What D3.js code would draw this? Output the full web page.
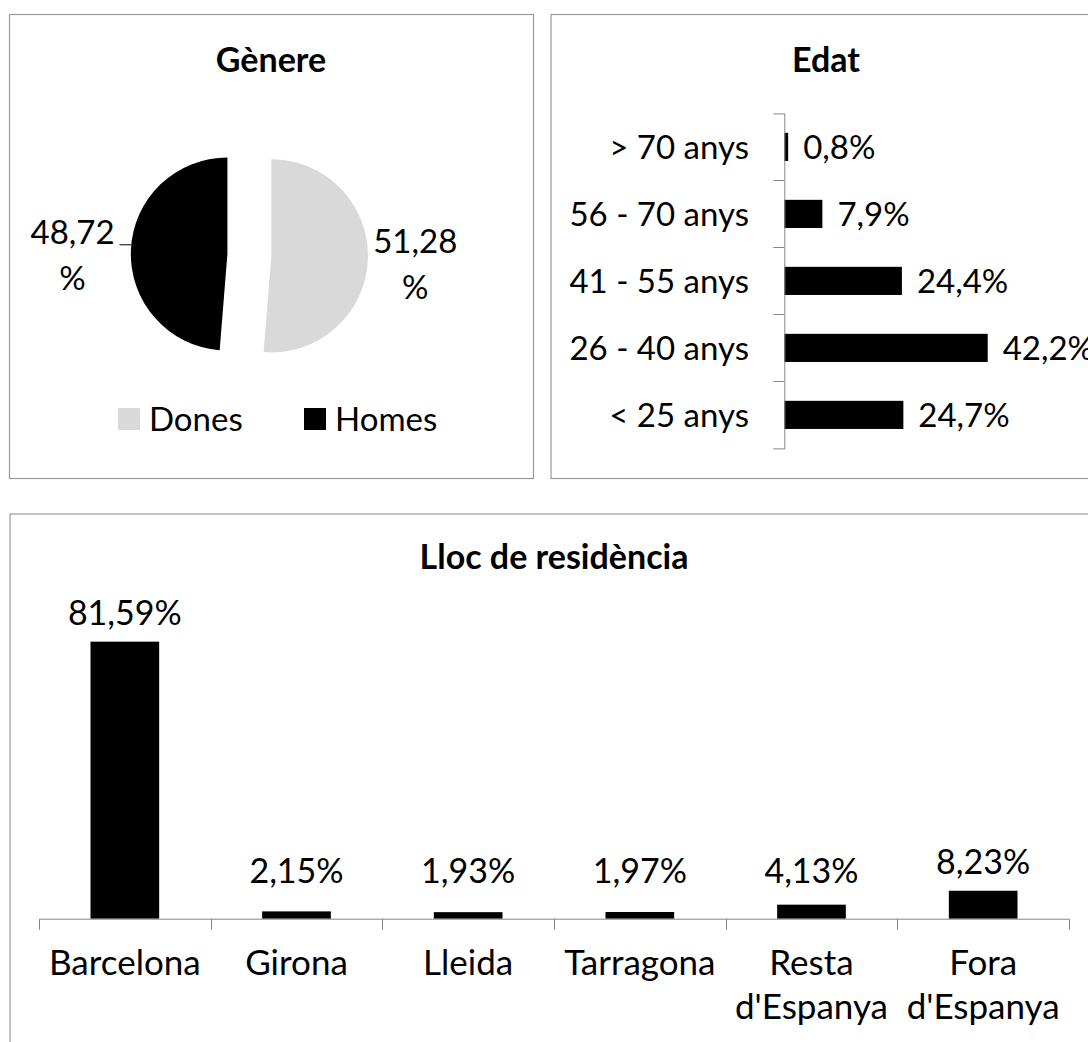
<!DOCTYPE html>
<html>
<head>
<meta charset="utf-8">
<script src="https://cdn.jsdelivr.net/npm/d3@7"></script>
<style>
  body { margin: 0; background: #fff; }
  text { font-family: Lato, "Open Sans", sans-serif; fill: #000; }
</style>
</head>
<body>
<div id="chart"></div>
<script>
// Gènere (pie)
var genderLabels = ["Dones", "Homes"];
var genderValues = [51.28, 48.72];
var genderColors = ["#d9d9d9", "#000000"];

// Edat (horizontal bars, top to bottom)
var ageLabels = ["> 70 anys", "56 - 70 anys", "41 - 55 anys", "26 - 40 anys", "< 25 anys"];
var ageValues = [0.8, 7.9, 24.4, 42.2, 24.7];

// Lloc de residència (columns)
var placeLabels = [["Barcelona"], ["Girona"], ["Lleida"], ["Tarragona"], ["Resta", "d'Espanya"], ["Fora", "d'Espanya"]];
var placeValues = [81.59, 2.15, 1.93, 1.97, 4.13, 8.23];

// catalan number format (decimal comma)
var ca = d3.formatLocale({ decimal: ",", thousands: ".", grouping: [3], currency: ["", " €"] });
var f1 = ca.format(".1f");
var f2 = ca.format(".2f");

var svgWidth = 1088;
var svgHeight = 1042;
var topFont = 33;
var titleFont = 34;
var valueFont = 34;
var catFont = 35;
var axisColor = "#868686";
var borderColor = "#9a9a9a";

var svg = d3.select("#chart")
  .append("svg")
  .attr("width", svgWidth)
  .attr("height", svgHeight);

// panel frames
function panel(x, y, w, h) {
  svg.append("rect")
    .attr("x", x).attr("y", y)
    .attr("width", w).attr("height", h)
    .attr("fill", "none")
    .attr("stroke", borderColor)
    .attr("stroke-width", 1.2);
}
panel(9.5, 14.5, 524, 464);
panel(551, 14.5, 550, 464);
panel(10, 514, 1088, 560);

function title(txt, cx, y) {
  svg.append("text")
    .attr("x", cx).attr("y", y)
    .attr("text-anchor", "middle")
    .style("font-size", titleFont + "px")
    .style("font-weight", "bold")
    .text(txt);
}

// ---------- Gènere ----------
title("Gènere", 271, 72);

var pieCx = 249.4, pieCy = 254.9, radius = 96.6, explode = 22;
var pie = d3.pie().sort(null).value(d => d);
var arc = d3.arc().innerRadius(0).outerRadius(radius);
var slices = pie(genderValues);

var pieG = svg.append("g").attr("transform", `translate(${pieCx}, ${pieCy})`);

slices.forEach(function (s, i) {
  var mid = (s.startAngle + s.endAngle) / 2;
  var dx = Math.sin(mid) * explode;
  var dy = -Math.cos(mid) * explode;
  pieG.append("path")
    .attr("d", arc(s))
    .attr("transform", `translate(${dx}, ${dy})`)
    .attr("fill", genderColors[i]);

  // label along the bisector, two lines "51,28" / "%"
  var right = Math.sin(mid) > 0;
  var lr = right ? 166 : 177;
  var lx = Math.sin(mid) * lr;
  var ly = -Math.cos(mid) * lr;
  var b1 = ly - 9 + (right ? 0 : 5);
  var t = pieG.append("text")
    .attr("text-anchor", "middle")
    .style("font-size", topFont + "px");
  t.append("tspan").attr("x", lx).attr("y", b1).text(f2(genderValues[i]));
  t.append("tspan").attr("x", lx).attr("y", b1 + 46).text("%");

  if (!right) {
    // leader line from label to slice edge
    var yl = b1 + 1;
    var edge = dx - Math.sqrt(radius * radius - (yl - dy) * (yl - dy));
    pieG.append("line")
      .attr("x1", lx + 47).attr("x2", edge)
      .attr("y1", yl).attr("y2", yl)
      .attr("stroke", "#000").attr("stroke-width", 1);
  }
});

// legend
var legendX = [118, 304];
var legendY = 419;
genderLabels.forEach(function (lab, i) {
  svg.append("rect")
    .attr("x", legendX[i]).attr("y", legendY - 11)
    .attr("width", 22).attr("height", 22)
    .attr("fill", genderColors[i]);
  svg.append("text")
    .attr("x", legendX[i] + 31).attr("y", legendY)
    .attr("dy", "0.36em")
    .style("font-size", topFont + "px")
    .text(lab);
});

// ---------- Edat ----------
title("Edat", 826, 72);

var ageY = d3.scaleBand()
  .domain(ageLabels)
  .range([113.4, 448.4])
  .paddingInner(0.58)
  .paddingOuter(0.29);

var ageX = d3.scaleLinear()
  .domain([0, 45])
  .range([784.3, 784.3 + 45 * 4.82]);

svg.selectAll(".ageBar")
  .data(ageValues)
  .enter()
  .append("rect")
  .attr("class", "ageBar")
  .attr("x", ageX(0))
  .attr("y", (d, i) => ageY(ageLabels[i]))
  .attr("width", d => ageX(d) - ageX(0))
  .attr("height", ageY.bandwidth())
  .attr("fill", "#000");

var ageAxis = svg.append("g")
  .attr("transform", `translate(${ageX(0)}, 0)`)
  .call(d3.axisLeft(ageY).tickSize(0).tickSizeOuter(11).tickFormat(""));
ageAxis.select(".domain").attr("stroke", axisColor);

// boundary ticks between categories
var ageGap = (ageY.step() - ageY.bandwidth()) / 2;
ageLabels.slice(1).forEach(function (c) {
  var yy = Math.round(ageY(c) - ageGap) + 0.5;
  svg.append("line")
    .attr("x1", ageX(0) - 11).attr("x2", ageX(0))
    .attr("y1", yy).attr("y2", yy)
    .attr("stroke", axisColor);
});

ageLabels.forEach(function (c, i) {
  var cy = ageY(c) + ageY.bandwidth() / 2;
  svg.append("text")
    .attr("x", 749).attr("y", cy)
    .attr("dy", "0.36em")
    .attr("text-anchor", "end")
    .style("font-size", topFont + "px")
    .text(c);
  svg.append("text")
    .attr("x", ageX(ageValues[i]) + 15).attr("y", cy)
    .attr("dy", "0.36em")
    .style("font-size", topFont + "px")
    .text(f1(ageValues[i]) + "%");
});

// ---------- Lloc de residència ----------
title("Lloc de residència", 554, 569);

var placeX = d3.scaleBand()
  .domain(d3.range(placeValues.length))
  .range([39, 1069])
  .paddingInner(0.6)
  .paddingOuter(0.3);

var placeY = d3.scaleLinear()
  .domain([0, 90])
  .range([918.7, 613.1]);

svg.selectAll(".placeBar")
  .data(placeValues)
  .enter()
  .append("rect")
  .attr("class", "placeBar")
  .attr("x", (d, i) => placeX(i))
  .attr("y", d => placeY(d))
  .attr("width", placeX.bandwidth())
  .attr("height", d => placeY(0) - placeY(d))
  .attr("fill", "#000");

var placeAxis = svg.append("g")
  .attr("transform", `translate(0, ${placeY(0)})`)
  .call(d3.axisBottom(placeX).tickSize(0).tickSizeOuter(11).tickFormat(""));
placeAxis.select(".domain").attr("stroke", axisColor);

var placeGap = (placeX.step() - placeX.bandwidth()) / 2;
d3.range(1, placeValues.length).forEach(function (i) {
  var xx = Math.round(placeX(i) - placeGap) + 0.5;
  svg.append("line")
    .attr("x1", xx).attr("x2", xx)
    .attr("y1", placeY(0)).attr("y2", placeY(0) + 11)
    .attr("stroke", axisColor);
});

placeValues.forEach(function (v, i) {
  var cx = placeX(i) + placeX.bandwidth() / 2;
  svg.append("text")
    .attr("x", cx)
    .attr("y", Math.min(placeY(v) - 17, 883))
    .attr("text-anchor", "middle")
    .style("font-size", valueFont + "px")
    .text(f2(v) + "%");

  var t = svg.append("text")
    .attr("text-anchor", "middle")
    .style("font-size", catFont + "px");
  placeLabels[i].forEach(function (line, j) {
    t.append("tspan").attr("x", cx).attr("y", 975 + j * 44).text(line);
  });
});
</script>
</body>
</html>
